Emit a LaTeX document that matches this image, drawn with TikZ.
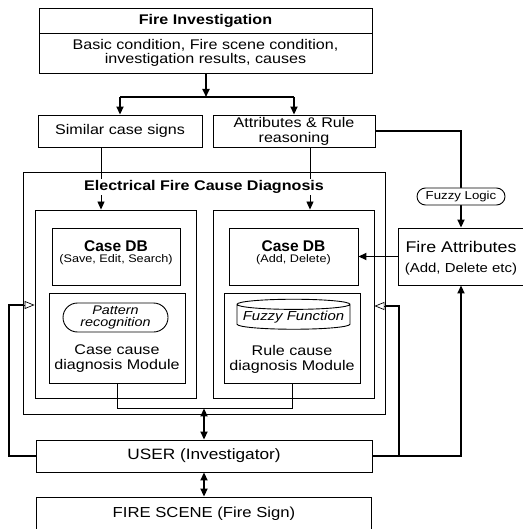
\documentclass[tikz,border=0pt]{standalone}
\usepackage{fontspec}
\setmainfont[FakeStretch=1.15]{Liberation Sans}
\newfontfamily\plainsans{Liberation Sans}
\usetikzlibrary{arrows.meta,shapes.geometric,shapes.misc}
\newcommand\setfs[2]{\fontsize{#1}{#2}\selectfont}
\begin{document}
\begin{tikzpicture}[x=1pt,y=-1pt,
  box/.style={draw,line width=0.9pt,inner sep=0pt,align=center},
  txt/.style={inner sep=0pt,align=center},
  conn/.style={line width=1.8pt},
  thinconn/.style={line width=0.9pt},
  openarrow/.style={line width=0.7pt,-{Triangle[open,width=8pt,length=10pt]}},
  >={Triangle[width=7pt,length=8pt]}]
\fill[white] (0,0) rectangle (522,529);
\useasboundingbox (0,0) rectangle (522,529);

% top block
\node[box,minimum width=333pt,minimum height=25pt,font=\setfs{14}{14}\bfseries] (fititle) at (205.5,20.5) {Fire Investigation};
\node[box,minimum width=333pt,minimum height=40pt,font=\setfs{14}{14.5}] (fibody) at (205.5,53) {Basic condition, Fire scene condition,\\investigation results, causes};

\node[box,minimum width=164pt,minimum height=32pt,font=\setfs{14}{14}] (similar) at (120,131) {Similar case signs};
\node[box,minimum width=162pt,minimum height=32pt,font=\setfs{14}{15}] (attr) at (294,131) {Attributes \& Rule\\reasoning};

% diagnosis block
\node[box,minimum width=362pt,minimum height=242pt] (efcd) at (204,293) {};
\node[box,minimum width=161pt,minimum height=188pt] (inL) at (115.5,304) {};
\node[box,minimum width=161pt,minimum height=188pt] (inR) at (293.5,304) {};

\node[box,minimum width=128pt,minimum height=57pt] (dbL) at (116,256.5) {};
\node[txt,anchor=base,font=\plainsans\setfs{15.5}{15.5}\bfseries] (dbLa) at (116,251.5) {Case DB};
\node[txt,anchor=base,font=\setfs{11}{11}] (dbLb) at (116,262.5) {(Save, Edit, Search)};
\node[box,minimum width=129pt,minimum height=57pt] (dbR) at (293.5,256.5) {};
\node[txt,anchor=base,font=\plainsans\setfs{15.5}{15.5}\bfseries] (dbRa) at (293.5,251.5) {Case DB};
\node[txt,anchor=base,font=\setfs{11}{11}] (dbRb) at (293.5,262.5) {(Add, Delete)};

\node[box,minimum width=136pt,minimum height=90pt] (modL) at (117,338) {};
\node[box,minimum width=136pt,minimum height=90pt] (modR) at (292,338) {};
\node[box,rounded rectangle,minimum width=105pt,minimum height=29pt,font=\setfs{12.5}{12}\itshape] (pattern) at (115.5,317.5) {Pattern\\recognition};
\node[box,cylinder,shape border rotate=90,aspect=0.1,minimum width=113pt,minimum height=30pt,font=\setfs{13}{13}\itshape] (fuzzyfn) at (293.5,317) {Fuzzy Function};
\node[txt,font=\setfs{14}{15}] (modLt) at (117,359) {Case cause\\diagnosis Module};
\node[txt,font=\setfs{14}{15}] (modRt) at (292,359) {Rule cause\\diagnosis Module};

% user and scene
\node[box,minimum width=336pt,minimum height=32pt,font=\setfs{15}{15}] (user) at (204,456) {USER (Investigator)};
\node[box,minimum width=335pt,minimum height=34pt,font=\setfs{14.5}{14.5}] (scene) at (204,514) {FIRE SCENE (Fire Sign)};

% fire attributes
\node[box,minimum width=126pt,minimum height=57pt] (fattr) at (461,256.5) {};
\node[txt,anchor=base,font=\setfs{15.5}{15.5}] (fattra) at (461,252.5) {Fire Attributes};
\node[txt,anchor=base,font=\setfs{13}{13}] (fattrb) at (461,272) {(Add, Delete etc)};

% connectors
\coordinate (j) at (206,97);
\draw[conn,->] (fibody.south -| j) -- (j);
\draw[conn] (similar.north |- j) -- (attr.north |- j);
\draw[conn,->] (similar.north |- j) -- (similar.north);
\draw[conn,->] (attr.north |- j) -- (attr.north);

\coordinate (sL) at ([xshift=-19pt]similar.south);
\coordinate (aR) at ([xshift=16pt]attr.south);
\draw[thinconn,->] (sL) -- (sL |- inL.north);
\draw[thinconn,->] (aR) -- (aR |- inR.north);
\node[txt,fill=white,inner sep=1.5pt,font=\setfs{14}{14}\bfseries] (efcdt) at (204,187) {Electrical Fire Cause Diagnosis};

\draw[conn,->] (attr.east) -| (fattr.north);
\node[box,rounded rectangle,fill=white,minimum width=88pt,minimum height=17pt,font=\setfs{11.5}{11.5}] (fuzzyl) at (461,196.5) {Fuzzy Logic};
\draw[conn,->] (fattr.west) -- (dbR.east);

\coordinate (bj) at ([yshift=-25pt]modL.south);
\draw[thinconn] (modL.south) -- (bj) -| (modR.south);
\draw[conn,<->] (user.north |- bj) -- (user.north);
\draw[conn,<->] (user.south) -- (scene.north);

\coordinate (lft) at (9,305);
\draw[conn] (user.west) -| (lft) -- (lft -| efcd.west);
\draw[openarrow] (lft -| efcd.west) -- (lft -| inL.west);

\coordinate (rgt) at (399,306);
\draw[conn,->] (user.east) -| (fattr.south);
\draw[conn] (user.east -| rgt) -- (rgt) -- (rgt -| efcd.east);
\draw[openarrow] (rgt -| efcd.east) -- (rgt -| inR.east);
\end{tikzpicture}
\end{document}
